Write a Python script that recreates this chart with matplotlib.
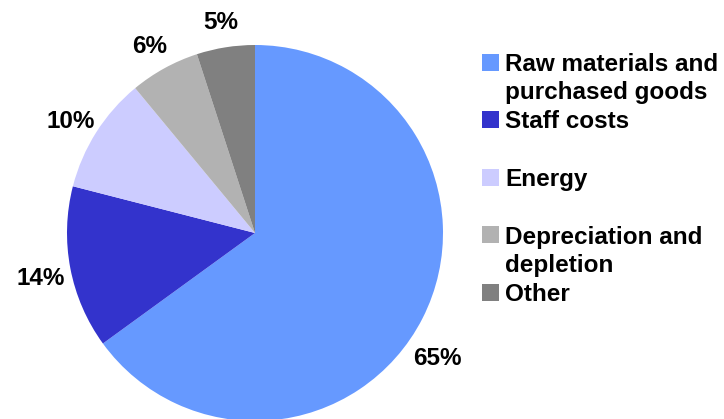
import matplotlib.pyplot as plt
from matplotlib.patches import Rectangle
from matplotlib.transforms import ScaledTranslation

categories = ["Raw materials and\npurchased goods", "Staff costs", "Energy",
              "Depreciation and\ndepletion", "Other"]
shares = [65, 14, 10, 6, 5]
colors = ["#6699FF", "#3333CC", "#CCCCFF", "#B2B2B2", "#808080"]

W, H = 724, 419
plt.rcParams['font.family'] = ['Liberation Sans', 'DejaVu Sans']
FS = 17.5

fig = plt.figure(figsize=(W / 100, H / 100), dpi=100)

# pie centred at (255, 233) px with a radius of 188 px
cx, cy, r = 255, 233, 188
ax = fig.add_axes([(cx - r) / W, (H - cy - r) / H, 2 * r / W, 2 * r / H])
wedges, texts = ax.pie(shares, colors=colors, startangle=90, counterclock=False,
                       labels=[f"{v}%" for v in shares], labeldistance=1.16,
                       wedgeprops=dict(linewidth=0))
nudge = ScaledTranslation(0, -5 / 100, fig.dpi_scale_trans)
for t in texts:
    t.set_fontsize(FS)
    t.set_fontweight('bold')
    t.set_ha('center')
    t.set_va('center')
    t.set_transform(t.get_transform() + nudge)
# the big slice's label sits a bit lower
texts[0].set_position((0.97, -0.64))
ax.set_xlim(-1, 1)
ax.set_ylim(-1, 1)
ax.set_aspect('auto')
ax.axis('off')

# legend drawn by hand: one slot per entry, lines set one by one
baseline0, step, line_step = 71, 57.5, 28
for i, (name, c) in enumerate(zip(categories, colors)):
    base = baseline0 + step * i
    fig.patches.append(Rectangle((482 / W, (H - base) / H), 17 / W, 17 / H,
                                 transform=fig.transFigure, facecolor=c,
                                 edgecolor='none'))
    for k, line in enumerate(name.split("\n")):
        fig.text(505 / W, (H - base - k * line_step) / H, line, fontsize=FS,
                 fontweight='bold', ha='left', va='baseline')

fig.savefig("out.png", dpi=100)
